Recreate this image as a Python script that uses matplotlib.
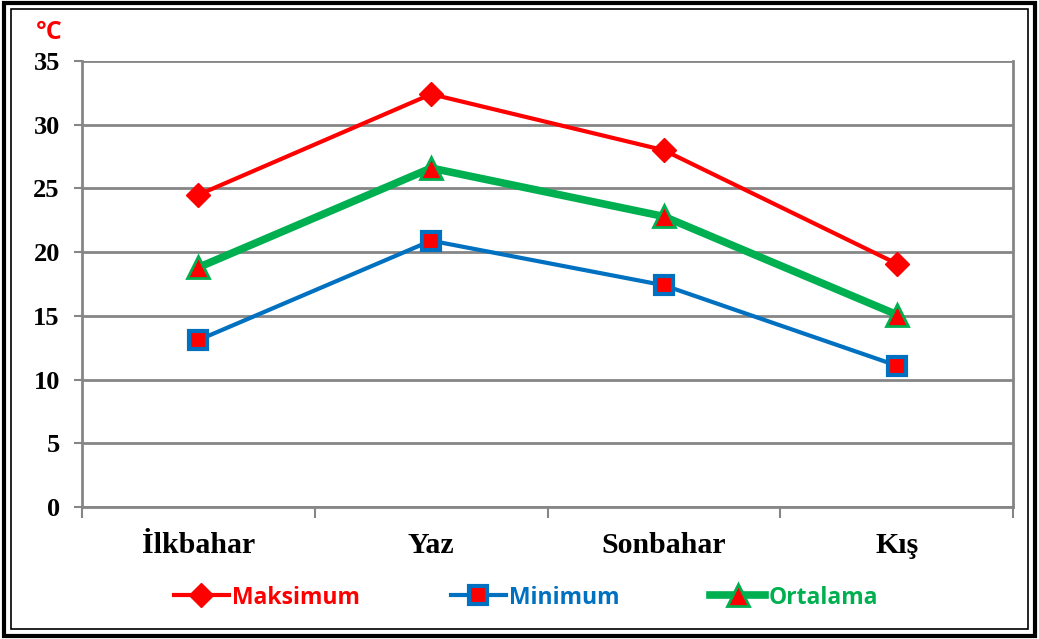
import matplotlib.pyplot as plt
from matplotlib.patches import Rectangle

seasons = ['İlkbahar', 'Yaz', 'Sonbahar', 'Kış']
maksimum = [24.5, 32.4, 28.0, 19.1]
minimum = [13.1, 20.9, 17.4, 11.1]
ortalama = [18.8, 26.6, 22.8, 15.1]
y_ticks = [0, 5, 10, 15, 20, 25, 30, 35]

grid_col = '#868686'

fig = plt.figure(figsize=(10.39, 6.39), dpi=100)
ax = fig.add_axes([0.0789, 0.2066, 0.8961, 0.6979])

x = list(range(len(seasons)))
ax.plot(x, maksimum, color='#FF0000', lw=3, marker='D', ms=12,
        mfc='#FF0000', mec='#FF0000', label='Maksimum', zorder=3)
ax.plot(x, minimum, color='#0070C0', lw=3, marker='s', ms=13,
        mfc='#FF0000', mec='#0070C0', mew=3, label='Minimum', zorder=3)
ax.plot(x, ortalama, color='#00B050', lw=5.5, marker='^', ms=16,
        mfc='#FF0000', mec='#00B050', mew=2, label='Ortalama', zorder=4)

ax.set_xlim(-0.5, len(seasons) - 0.5)
ax.set_ylim(0, 35)
ax.set_yticks(y_ticks)
ax.set_yticklabels([str(v) for v in y_ticks], family='Liberation Serif',
                   fontweight='bold', fontsize=19)
ax.set_xticks(x)
ax.set_xticklabels(seasons, family='Liberation Serif', fontweight='bold', fontsize=21.5)
ax.set_xticks([i - 0.5 for i in range(len(seasons) + 1)], minor=True)
ax.tick_params(axis='x', which='major', length=0, pad=18)
ax.tick_params(axis='x', which='minor', length=8, width=1.5, color=grid_col)
ax.tick_params(axis='y', length=6, width=1.5, color=grid_col, pad=10)

ax.grid(axis='y', color=grid_col, lw=2)
ax.set_axisbelow(True)
for side in ['left', 'right', 'bottom']:
    ax.spines[side].set_color(grid_col)
    ax.spines[side].set_linewidth(2)
ax.spines['top'].set_visible(False)

fig.text(0.047, 0.949, '°C', color='#FF0000', family='Open Sans', fontweight='bold',
         fontsize=18, ha='center', va='center')

leg = ax.legend(loc='center', bbox_to_anchor=(0.477, -0.203), ncol=3, frameon=False,
                prop={'family': 'Open Sans', 'weight': 'bold', 'size': 16.5},
                handlelength=2.4, handletextpad=0.15, columnspacing=3.95)
for text, line in zip(leg.get_texts(), leg.get_lines()):
    text.set_color(line.get_color())

# double frame around the chart
fig.add_artist(Rectangle((0.004, 0.005), 0.992, 0.99, transform=fig.transFigure,
                         fill=False, ec='black', lw=3))
fig.add_artist(Rectangle((0.0105, 0.0155), 0.979, 0.97, transform=fig.transFigure,
                         fill=False, ec='black', lw=1.2))

fig.savefig('out.png', dpi=100)
